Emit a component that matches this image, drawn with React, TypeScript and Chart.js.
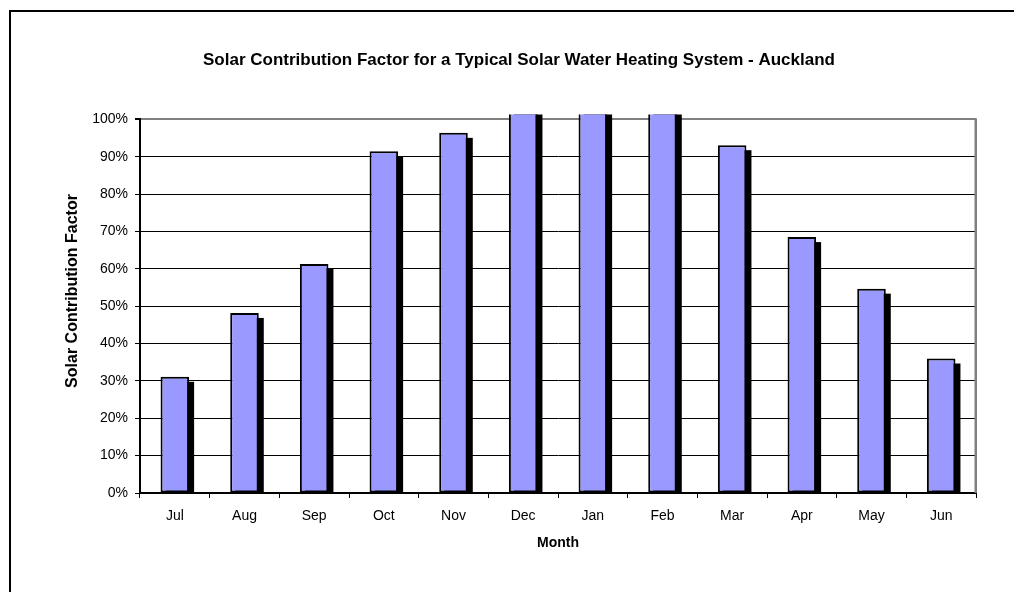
import React, { useEffect, useRef } from "react";
import { Chart, registerables } from "chart.js";

Chart.register(...registerables);

const months = ["Jul", "Aug", "Sep", "Oct", "Nov", "Dec", "Jan", "Feb", "Mar", "Apr", "May", "Jun"];
const solarFactor = [31.1, 48.2, 61.3, 91.5, 96.4, 106, 110, 105, 93.1, 68.5, 54.7, 36.0];
const titleText = "Solar Contribution Factor for a Typical Solar Water Heating System - Auckland";
const xTitle = "Month";
const yTitle = "Solar Contribution Factor";

const FONT = "'Liberation Sans', Arial, sans-serif";

const framePlugin = {
  id: "frame",
  beforeDatasetsDraw(chart: any) {
    const { ctx, chartArea: ca } = chart;
    ctx.save();
    // right border of plot area
    ctx.fillStyle = "#808080";
    ctx.fillRect(ca.right - 1.5, ca.top - 1, 2.5, ca.bottom - ca.top + 1);
    // bar shadows
    ctx.beginPath();
    ctx.rect(ca.left, ca.top - 5, ca.right - ca.left, ca.bottom - ca.top + 5);
    ctx.clip();
    ctx.fillStyle = "#000";
    const meta = chart.getDatasetMeta(0);
    meta.data.forEach((el: any) => {
      const p = el.getProps(["x", "y", "base", "width"], true);
      ctx.fillRect(p.x - p.width / 2 + 5, p.y + 5, p.width, p.base - p.y - 5);
    });
    ctx.restore();
  },
  afterDraw(chart: any) {
    const { ctx } = chart;
    ctx.save();
    // outer frame (top and left edges)
    ctx.fillStyle = "#000";
    ctx.fillRect(9, 10, chart.width, 2);
    ctx.fillRect(9, 10, 2, chart.height);
    // y axis title
    ctx.translate(73, 291);
    ctx.rotate(-Math.PI / 2);
    ctx.font = `bold 16px ${FONT}`;
    ctx.textAlign = "center";
    ctx.textBaseline = "middle";
    ctx.fillText(yTitle, 0, 0);
    ctx.restore();
  },
};

export default function App() {
  const ref = useRef<HTMLCanvasElement | null>(null);
  useEffect(() => {
    if (!ref.current) return;
    Chart.defaults.color = "#000";
    const chart = new Chart(ref.current, {
      type: "bar",
      data: {
        labels: months,
        datasets: [
          {
            data: solarFactor,
            backgroundColor: "#9999FF",
            borderColor: "#000",
            borderWidth: 2,
            borderSkipped: false,
            barPercentage: 0.41,
            categoryPercentage: 1,
            clip: { left: 0, top: 5, right: 0, bottom: 0 } as any,
          },
        ],
      },
      plugins: [framePlugin],
      options: {
        animation: false,
        responsive: true,
        maintainAspectRatio: false,
        layout: { padding: { left: 62, right: 38, top: 0, bottom: 0 } },
        plugins: {
          legend: { display: false },
          tooltip: { enabled: false },
          title: {
            display: true,
            text: titleText,
            color: "#000",
            font: { family: FONT, size: 17, weight: "bold" },
            padding: { top: 50, bottom: 49 },
          },
        },
        scales: {
          x: {
            afterFit: (s: any) => {
              s.height = 99;
            },
            grid: {
              offset: true,
              drawOnChartArea: false,
              drawTicks: true,
              tickLength: 5,
              color: "#000",
            },
            border: { display: true, color: "#000", width: 2 },
            ticks: { color: "#000", padding: 10, font: { family: FONT, size: 14 } },
            title: {
              display: true,
              text: xTitle,
              color: "#000",
              font: { family: FONT, size: 14, weight: "bold" },
              padding: { top: 0, bottom: 40 },
            },
          },
          y: {
            min: 0,
            max: 100,
            afterFit: (s: any) => {
              s.width = 78;
            },
            grid: {
              color: (c: any) => (c.tick && c.tick.value === 100 ? "#808080" : "#000"),
              lineWidth: (c: any) => (c.tick && c.tick.value === 100 ? 2 : 1),
              tickColor: "#000",
              tickLength: 5,
              drawTicks: true,
            },
            border: { display: true, color: "#000", width: 2 },
            ticks: {
              stepSize: 10,
              padding: 7,
              color: "#000",
              font: { family: FONT, size: 14 },
              callback: (v: any) => `${v}%`,
            },
          },
        },
      },
    });
    return () => chart.destroy();
  }, []);
  return (
    <div style={{ position: "absolute", left: 0, top: 0, width: 1014, height: 592, background: "#fff" }}>
      <canvas ref={ref} style={{ display: "block" }} />
    </div>
  );
}
